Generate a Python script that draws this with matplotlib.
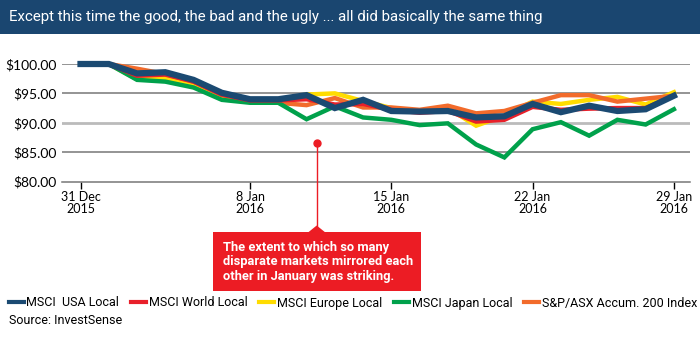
import matplotlib
matplotlib.use("Agg")
import matplotlib.pyplot as plt
from matplotlib.patches import Rectangle, Polygon
from matplotlib.lines import Line2D

# trading days 31 Dec 2015 .. 29 Jan 2016 (index on x axis)
tick_pos = [0, 6, 11, 16, 21]
tick_labels = ['31 Dec\n2015', '8 Jan\n2016', '15 Jan\n2016', '22 Jan\n2016', '29 Jan\n2016']

usa = [100, 100, 98.4, 98.6, 97.3, 95.1, 94.0, 94.0, 94.7, 92.5, 93.9, 92.0,
       91.9, 92.0, 90.9, 91.1, 93.2, 91.8, 92.9, 92.0, 92.3, 94.6]
world = [100, 100, 98.0, 98.2, 97.0, 94.8, 93.8, 93.8, 94.0, 93.1, 93.2, 92.2,
         91.7, 92.0, 90.2, 90.5, 92.7, 92.2, 92.4, 92.5, 92.5, 94.6]
europe = [100, 100, 97.4, 97.6, 96.5, 94.5, 93.6, 93.5, 94.8, 95.0, 93.7, 92.5,
          92.0, 92.5, 89.5, 91.2, 93.6, 93.2, 93.9, 94.4, 93.1, 95.2]
japan = [100, 100, 97.3, 97.0, 96.0, 93.9, 93.4, 93.4, 90.6, 92.8, 90.9, 90.5,
         89.6, 89.9, 86.3, 84.1, 88.9, 90.1, 87.8, 90.5, 89.7, 92.3]
asx = [100, 100, 99.2, 98.3, 97.0, 94.7, 94.0, 93.4, 93.0, 94.2, 92.6, 92.6,
       92.2, 92.9, 91.6, 92.0, 93.4, 94.7, 94.7, 93.6, 94.1, 94.6]

yticks = [80, 85, 90, 95, 100]
ytick_labels = ['$80.00', '$85.00', '$90.00', '$95.00', '$100.00']

narrow = ['Roboto', 'DejaVu Sans']
plt.rcParams['font.family'] = ['Lato', 'DejaVu Sans']

fig = plt.figure(figsize=(7, 3.41), dpi=100)
W, H = 700, 341

def fx(px):
    return px / W

def fy(py):
    return 1 - py / H

# title banner
fig.patches.append(Rectangle((0, fy(34)), 1, 34 / H, transform=fig.transFigure,
                             facecolor='#1a4670', edgecolor='none'))
fig.text(fx(9), fy(17), 'Except this time the good, the bad and the ugly ... all did basically the same thing',
         color='white', fontsize=10.8, va='center', ha='left', family=narrow)

ax = fig.add_axes([fx(62), fy(181.5), fx(690) - fx(62), (181.5 - 64) / H])
x = list(range(len(usa)))

series = [
    ('MSCI Europe Local', europe, '#ffdc00', 3.2),
    ('S&P/ASX Accum. 200 Index', asx, '#f26b2b', 3.2),
    ('MSCI Japan Local', japan, '#00a14b', 3.2),
    ('MSCI World Local', world, '#e8202a', 3.2),
    ('MSCI  USA Local', usa, '#1b4a72', 4.5),
]
handles = {}
for name, vals, col, lw in series:
    ln, = ax.plot(x, vals, color=col, lw=lw, solid_joinstyle='miter', clip_on=False, zorder=3)
    handles[name] = ln

ax.set_xlim(-0.655, 21.57)
ax.set_ylim(80, 100)
for v in [85, 95, 100]:
    ax.axhline(v, color='#777777', lw=1.1, zorder=1)
ax.axhline(90, color='#bbbbbb', lw=2, zorder=1)

for s in ['top', 'right', 'left']:
    ax.spines[s].set_visible(False)
ax.spines['bottom'].set_color('#777777')
ax.spines['bottom'].set_linewidth(1.1)

ax.set_yticks(yticks)
ax.set_yticklabels(ytick_labels, fontsize=10)
ax.tick_params(axis='y', length=0, pad=4)
ax.set_xticks(tick_pos)
ax.set_xticklabels(tick_labels, fontsize=9, linespacing=1.0)
ax.tick_params(axis='x', direction='out', length=5, width=1, color='black', pad=2)

# annotation
red = '#ec1c24'
fig.add_artist(Line2D([fx(316.7), fx(316.7)], [fy(143.3), fy(226)], color=red, lw=1,
                      transform=fig.transFigure))
fig.add_artist(Line2D([fx(316.7)], [fy(143.3)], marker='o', ms=5, color=red,
                      transform=fig.transFigure))
fig.patches.append(Rectangle((fx(213), fy(291)), fx(421) - fx(213), (291 - 232) / H,
                             transform=fig.transFigure, facecolor=red, edgecolor='none'))
fig.patches.append(Polygon([[fx(308), fy(232.5)], [fx(316.7), fy(225.5)], [fx(325.4), fy(232.5)]],
                           closed=True, transform=fig.transFigure, facecolor=red, edgecolor='none'))
fig.text(fx(223), fy(262), 'The extent to which so many\ndisparate markets mirrored each\nother in January was striking.',
         color='white', fontsize=9.3, fontweight='bold', va='center', ha='left', linespacing=1.15,
         family=narrow)

order = ['MSCI  USA Local', 'MSCI World Local', 'MSCI Europe Local', 'MSCI Japan Local',
         'S&P/ASX Accum. 200 Index']
leg_handles = [Line2D([], [], color=handles[n].get_color(), lw=3) for n in order]
fig.legend(leg_handles, order, loc='center left', bbox_to_anchor=(fx(9), fy(303)), ncol=5,
           frameon=False, prop={'family': narrow, 'size': 9}, handlelength=1.2, handletextpad=0.2,
           columnspacing=0.95, borderaxespad=0, borderpad=0)
fig.text(fx(9), fy(321), 'Source: InvestSense', fontsize=9, va='center', ha='left', family=narrow)

fig.savefig('out.png', dpi=100)
